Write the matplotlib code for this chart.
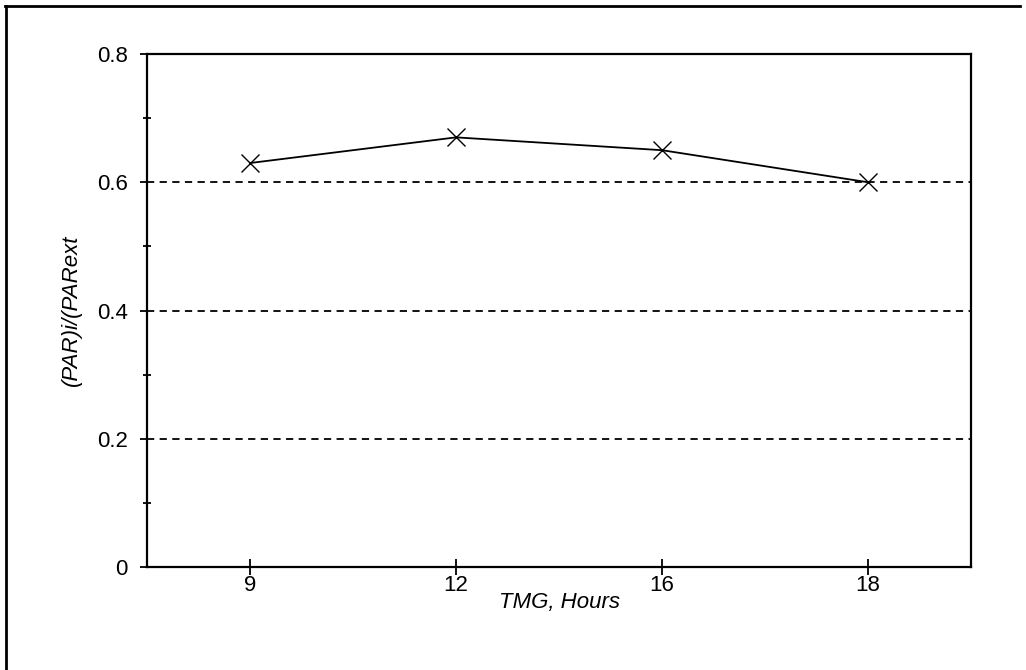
import matplotlib
matplotlib.use("Agg")
import matplotlib.pyplot as plt
from matplotlib.lines import Line2D
from matplotlib.ticker import MultipleLocator

hours = ["9", "12", "16", "18"]
ratio = [0.63, 0.67, 0.65, 0.60]
grid_levels = [0.2, 0.4, 0.6]

plt.rcParams['font.family'] = ['Liberation Sans', 'DejaVu Sans']

fig = plt.figure(figsize=(10.26, 6.70), dpi=100)
ax = fig.add_axes([0.1433, 0.1537, 0.8031, 0.7657])

xs = range(len(hours))
ax.plot(xs, ratio, color="black", linewidth=1.3, marker="x", markersize=13,
        markeredgewidth=1.0, zorder=3)

for lv in grid_levels:
    ax.axhline(lv, color="black", linestyle=(0, (4, 3)), linewidth=1.3, zorder=1)

ax.set_xlim(-0.5, len(hours) - 0.5)
ax.set_ylim(0, 0.8)
ax.set_xticks(list(xs))
ax.set_xticklabels(hours)
ax.set_yticks([0, 0.2, 0.4, 0.6, 0.8])
ax.set_yticklabels(["0", "0.2", "0.4", "0.6", "0.8"])
ax.yaxis.set_minor_locator(MultipleLocator(0.1))

ax.tick_params(axis="y", which="major", direction="out", length=5, width=1.3,
               labelsize=16, pad=9)
ax.tick_params(axis="y", which="minor", direction="inout", length=6, width=1.3)
ax.tick_params(axis="x", which="major", direction="inout", length=12, width=1.3,
               labelsize=16, pad=0)

for sp in ax.spines.values():
    sp.set_linewidth(1.6)

ax.set_xlabel("TMG, Hours", fontsize=16, style="italic", labelpad=-3)
ax.set_ylabel("(PAR)i/(PARext", fontsize=16, style="italic")
ax.yaxis.set_label_coords(-0.079, 0.5)

# page border (top and left only)
fig.add_artist(Line2D([0.005, 0.994], [0.991, 0.991], color="black", linewidth=2.0,
                      transform=fig.transFigure))
fig.add_artist(Line2D([0.006, 0.006], [0.991, 0.0], color="black", linewidth=2.0,
                      transform=fig.transFigure))

fig.savefig("out.png", dpi=100)
